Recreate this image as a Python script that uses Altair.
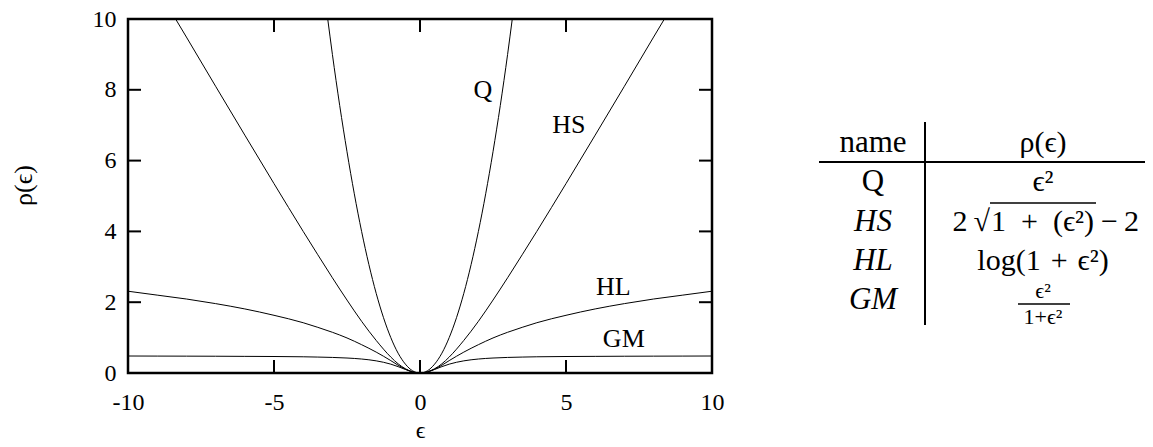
import altair as alt
import pandas as pd

FONT = "Liberation Serif, DejaVu Serif, serif"

# ---- curves ----
q_x = [-3.16, -3.0, -2.5, -2.0, -1.5, -1.0, -0.75, -0.5, -0.25, 0.0,
       0.25, 0.5, 0.75, 1.0, 1.5, 2.0, 2.5, 3.0, 3.16]
q_y = [10.0, 9.0, 6.25, 4.0, 2.25, 1.0, 0.56, 0.25, 0.06, 0.0,
       0.06, 0.25, 0.56, 1.0, 2.25, 4.0, 6.25, 9.0, 10.0]

hs_x = [-8.37, -8.0, -7.0, -6.0, -5.0, -4.0, -3.5, -3.0, -2.5, -2.0, -1.5, -1.0, -0.75, -0.5, -0.25, 0.0,
        0.25, 0.5, 0.75, 1.0, 1.5, 2.0, 2.5, 3.0, 3.5, 4.0, 5.0, 6.0, 7.0, 8.0, 8.37]
hs_y = [10.0, 9.49, 8.10, 6.72, 5.35, 4.00, 3.34, 2.69, 2.06, 1.46, 0.92, 0.45, 0.26, 0.12, 0.03, 0.0,
        0.03, 0.12, 0.26, 0.45, 0.92, 1.46, 2.06, 2.69, 3.34, 4.00, 5.35, 6.72, 8.10, 9.49, 10.0]

hl_x = [-10.0, -9.0, -8.0, -7.0, -6.0, -5.0, -4.0, -3.5, -3.0, -2.5, -2.0, -1.5, -1.0, -0.75, -0.5, -0.25, 0.0,
        0.25, 0.5, 0.75, 1.0, 1.5, 2.0, 2.5, 3.0, 3.5, 4.0, 5.0, 6.0, 7.0, 8.0, 9.0, 10.0]
hl_y = [2.31, 2.20, 2.09, 1.96, 1.81, 1.63, 1.42, 1.29, 1.15, 0.99, 0.80, 0.59, 0.35, 0.22, 0.11, 0.03, 0.0,
        0.03, 0.11, 0.22, 0.35, 0.59, 0.80, 0.99, 1.15, 1.29, 1.42, 1.63, 1.81, 1.96, 2.09, 2.20, 2.31]

gm_x = [-10.0, -9.0, -8.0, -7.0, -6.0, -5.0, -4.0, -3.5, -3.0, -2.5, -2.0, -1.5, -1.0, -0.75, -0.5, -0.25, 0.0,
        0.25, 0.5, 0.75, 1.0, 1.5, 2.0, 2.5, 3.0, 3.5, 4.0, 5.0, 6.0, 7.0, 8.0, 9.0, 10.0]
gm_y = [0.48, 0.478, 0.476, 0.474, 0.470, 0.466, 0.458, 0.450, 0.440, 0.423, 0.395, 0.343, 0.250, 0.180, 0.100, 0.029, 0.0,
        0.029, 0.100, 0.180, 0.250, 0.343, 0.395, 0.423, 0.440, 0.450, 0.458, 0.466, 0.470, 0.474, 0.476, 0.478, 0.48]

# ---- in-plot labels ----
lbl_text = ["Q", "HS", "HL", "GM"]
lbl_x = [2.15, 5.1, 6.62, 6.98]
lbl_y = [8.0, 7.0, 2.43, 0.96]

# ---- ticks ----
x_ticks = [-10, -5, 0, 5, 10]
y_ticks = [0, 2, 4, 6, 8, 10]

# ---- table ----
tbl_rows = ["head", "Q", "HS", "HL", "GM"]
tbl_names = ["name", "Q", "HS", "HL", "GM"]
tbl_style = ["normal", "normal", "italic", "italic", "italic"]
tbl_forms = ["ρ(ϵ)", "ϵ²", "", "log(1\u2004+\u2004ϵ²)", ""]

W, H = 584, 354

frames = []
for name, xv, yv in [("Q", q_x, q_y), ("HS", hs_x, hs_y), ("HL", hl_x, hl_y), ("GM", gm_x, gm_y)]:
    frames.append(pd.DataFrame({"x": xv, "y": yv, "curve": name}))
curves = pd.concat(frames, ignore_index=True)

labels = pd.DataFrame({"x": lbl_x, "y": lbl_y, "t": lbl_text})
xt = pd.DataFrame({"v": x_ticks})
yt = pd.DataFrame({"v": y_ticks})

xs = alt.Scale(domain=[-10, 10], nice=False, zero=False)
ys = alt.Scale(domain=[0, 10], nice=False, zero=False)

x_axis = alt.Axis(values=x_ticks, labelExpr="'' + datum.value", title="ϵ",
                  domain=False, ticks=False, grid=False, labelFont=FONT, labelFontSize=24,
                  labelColor="black", labelPadding=17, labelFlush=False,
                  titleFont=FONT, titleFontSize=24, titleFontWeight="normal", titleColor="black",
                  titleBaseline="middle", titleY=57)
y_axis = alt.Axis(values=y_ticks, title="ρ(ϵ)",
                  domain=False, ticks=False, grid=False, labelFont=FONT, labelFontSize=24,
                  labelColor="black", labelPadding=12, labelFlush=False,
                  titleFont=FONT, titleFontSize=26, titleFontWeight="normal", titleColor="black",
                  titleBaseline="middle", titleAngle=270, titleX=-105, titleY=166)

lines = alt.Chart(curves).mark_line(color="black", strokeWidth=1, interpolate="monotone").encode(
    x=alt.X("x:Q", scale=xs, axis=x_axis),
    y=alt.Y("y:Q", scale=ys, axis=y_axis),
    detail="curve:N",
)

lbls = alt.Chart(labels).mark_text(font=FONT, fontSize=26, color="black", align="center",
                                   baseline="middle").encode(
    x=alt.X("x:Q", scale=xs), y=alt.Y("y:Q", scale=ys), text="t:N")

tick_bottom = alt.Chart(xt).mark_rule(color="black", strokeWidth=2).encode(
    x=alt.X("v:Q", scale=xs), y=alt.value(H), y2=alt.value(H - 13))
tick_top = alt.Chart(xt).mark_rule(color="black", strokeWidth=2).encode(
    x=alt.X("v:Q", scale=xs), y=alt.value(0), y2=alt.value(13))
tick_left = alt.Chart(yt).mark_rule(color="black", strokeWidth=2).encode(
    y=alt.Y("v:Q", scale=ys), x=alt.value(0), x2=alt.value(13))
tick_right = alt.Chart(yt).mark_rule(color="black", strokeWidth=2).encode(
    y=alt.Y("v:Q", scale=ys), x=alt.value(W), x2=alt.value(W - 13))

main = alt.layer(lines, lbls, tick_bottom, tick_top, tick_left, tick_right)

# ---- table ----
tdf = pd.DataFrame({"row": tbl_rows, "name": tbl_names, "style": tbl_style, "form": tbl_forms})
tx = alt.Scale(type="point", domain=["name", "rho"], range=[745, 915], padding=0)
ty = alt.Scale(type="point", domain=tbl_rows, range=[124, 281], padding=0)
TFS = 31
FFS = 30

def col():
    return alt.X("c:N", scale=tx, axis=None)

def row():
    return alt.Y("row:N", scale=ty, axis=None)

base_t = alt.Chart(tdf)
names_up = base_t.transform_filter("datum.style == 'normal'").transform_calculate(c="'name'").mark_text(
    font=FONT, fontSize=TFS, color="black", align="center", baseline="middle").encode(
    x=col(), y=row(), text="name:N")
names_it = base_t.transform_filter("datum.style == 'italic'").transform_calculate(c="'name'").mark_text(
    font=FONT, fontSize=TFS, fontStyle="italic", color="black", align="center", baseline="middle").encode(
    x=col(), y=row(), text="name:N")
forms = base_t.transform_filter("datum.form != ''").transform_calculate(c="'rho'").mark_text(
    font=FONT, fontSize=FFS, color="black", align="center", baseline="middle").encode(
    x=col(), y=row(), text="form:N")

hs_df = pd.DataFrame({"row": ["HS"], "c": ["rho"]})
hs_a = alt.Chart(hs_df).mark_text(font=FONT, fontSize=FFS, color="black", align="right",
                                  baseline="middle", dx=-53, text="2\u2009√").encode(x=col(), y=row())
hs_b = alt.Chart(hs_df).mark_text(font=FONT, fontSize=FFS, color="black", align="left",
                                  baseline="middle", dx=-52, text="1\u2002+\u2002(ϵ²)").encode(x=col(), y=row())
hs_c = alt.Chart(hs_df).mark_text(font=FONT, fontSize=FFS, color="black", align="left",
                                  baseline="middle", dx=58, text="\u2212\u20092").encode(x=col(), y=row())

one = pd.DataFrame({"k": [0]})
hs_bar = alt.Chart(one).mark_rule(color="black", strokeWidth=1.5).encode(
    x=alt.value(862), x2=alt.value(968), y=alt.value(184))

gm_df = pd.DataFrame({"row": ["GM"], "c": ["rho"]})
gm_num = alt.Chart(gm_df).mark_text(font=FONT, fontSize=22, color="black", align="center",
                                    baseline="middle", dy=-9, text="ϵ²").encode(x=col(), y=row())
gm_den = alt.Chart(gm_df).mark_text(font=FONT, fontSize=22, color="black", align="center",
                                    baseline="middle", dy=17, text="1+ϵ²").encode(x=col(), y=row())
gm_bar = alt.Chart(one).mark_rule(color="black", strokeWidth=1.5).encode(
    x=alt.value(890), x2=alt.value(942), y=alt.value(285))

vsep = alt.Chart(one).mark_rule(color="black", strokeWidth=2).encode(
    x=alt.value(797), y=alt.value(103), y2=alt.value(306))
hsep = alt.Chart(one).mark_rule(color="black", strokeWidth=2).encode(
    x=alt.value(691), x2=alt.value(1020), y=alt.value(143))

chart = alt.layer(
    main, names_up, names_it, forms, hs_a, hs_b, hs_c, hs_bar, gm_num, gm_den, gm_bar, vsep, hsep
).resolve_scale(x="independent", y="independent").properties(
    width=W, height=H,
    padding={"left": 120, "top": 11, "right": 433, "bottom": 65},
    autosize=alt.AutoSizeParams(type="none"),
    background="white",
).configure_view(stroke="black", strokeWidth=2.5)

chart.save("out.html", embed_options={"renderer": "svg", "actions": False})
